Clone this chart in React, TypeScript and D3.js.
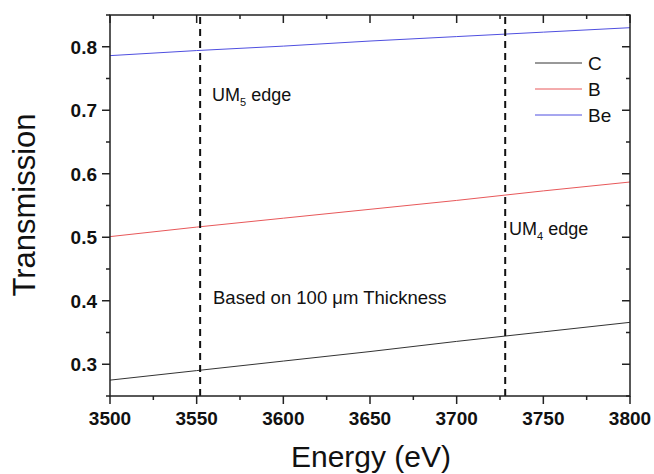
import React from "react";
import * as d3 from "d3";

// energies (eV) and transmission of each filter
const energy = [3500, 3550, 3600, 3650, 3700, 3750, 3800];
const carbon = [0.275, 0.29, 0.305, 0.32, 0.336, 0.351, 0.366];
const boron = [0.501, 0.516, 0.53, 0.544, 0.558, 0.573, 0.587];
const beryllium = [0.786, 0.794, 0.801, 0.809, 0.816, 0.823, 0.83];

const seriesNames = ["C", "B", "Be"];
const seriesColors = ["#333333", "#e8585a", "#4f4fe0"];
const seriesValues = [carbon, boron, beryllium];

const xTicks = [3500, 3550, 3600, 3650, 3700, 3750, 3800];
const yTicks = [0.3, 0.4, 0.5, 0.6, 0.7, 0.8];

// uranium M edges
const edges = [3552, 3728];

export default function App() {
    const w = 654;
    const h = 474;
    const m = { left: 110, right: 24, top: 15, bottom: 78 };
    const font = "'Liberation Sans', Arial, Helvetica, sans-serif";

    const x = d3.scaleLinear().domain([3500, 3800]).range([m.left, w - m.right]);
    const y = d3.scaleLinear().domain([0.25, 0.85]).range([h - m.bottom, m.top]);

    const line = d3.line<number>()
        .x((d, i) => x(energy[i]))
        .y(d => y(d));

    const xMinor = d3.range(3500, 3801, 25);
    const yMinor = d3.range(0.25, 0.851, 0.05);

    const [x0, x1] = x.range();
    const [y0, y1] = y.range();

    return (
        <svg width={w} height={h} style={{ position: "absolute", left: 0, top: 0, background: "#fff" }} fontFamily={font}>
            {/* data lines */}
            {seriesValues.map((vals, k) => (
                <path key={k} d={line(vals) || ""} fill="none" stroke={seriesColors[k]} strokeWidth={1} />
            ))}

            {/* edge markers */}
            {edges.map(e => (
                <line key={e} x1={x(e)} x2={x(e)} y1={y0} y2={y1} stroke="#111" strokeWidth={2} strokeDasharray="7,5" />
            ))}

            {/* frame */}
            <rect x={x0} y={y1} width={x1 - x0} height={y0 - y1} fill="none" stroke="#222" strokeWidth={1.5} />

            {/* x ticks: bottom outward, top inward */}
            {xMinor.map(t => {
                const major = t % 50 === 0;
                const len = major ? 8 : 4;
                return (
                    <g key={t}>
                        <line x1={x(t)} x2={x(t)} y1={y0} y2={y0 + len} stroke="#222" strokeWidth={1.5} />
                        <line x1={x(t)} x2={x(t)} y1={y1} y2={y1 + len} stroke="#222" strokeWidth={1.5} />
                    </g>
                );
            })}
            {xTicks.map(t => (
                <text key={t} x={x(t)} y={y0 + 29} textAnchor="middle" fontSize={19} fontWeight="bold" fill="#111">{t}</text>
            ))}

            {/* y ticks: left outward, right inward */}
            {yMinor.map((t, i) => {
                const major = i % 2 === 1;
                const len = major ? 8 : 4;
                return (
                    <g key={i}>
                        <line x1={x0 - len} x2={x0} y1={y(t)} y2={y(t)} stroke="#222" strokeWidth={1.5} />
                        <line x1={x1 - len} x2={x1} y1={y(t)} y2={y(t)} stroke="#222" strokeWidth={1.5} />
                    </g>
                );
            })}
            {yTicks.map(t => (
                <text key={t} x={x0 - 13} y={y(t) + 7} textAnchor="end" fontSize={19} fontWeight="bold" fill="#111">{t.toFixed(1)}</text>
            ))}

            {/* axis titles */}
            <text x={371} y={467} textAnchor="middle" fontSize={30} fill="#111">Energy (eV)</text>
            <text transform={`translate(35, 205) rotate(-90)`} textAnchor="middle" fontSize={31} fill="#111">Transmission</text>

            {/* annotations */}
            <text x={212} y={101} fontSize={18} fill="#111">UM<tspan fontSize={11} dy={5}>5</tspan><tspan dy={-5}> edge</tspan></text>
            <text x={509} y={235} fontSize={18} fill="#111">UM<tspan fontSize={11} dy={5}>4</tspan><tspan dy={-5}> edge</tspan></text>
            <text x={213} y={304} fontSize={18.5} fill="#111">Based on 100 μm Thickness</text>

            {/* legend */}
            {seriesNames.map((n, k) => (
                <g key={n} transform={`translate(535, ${63 + k * 26})`}>
                    <line x1={0} x2={47} y1={0} y2={0} stroke={seriesColors[k]} strokeWidth={1} />
                    <text x={53} y={7} fontSize={19} fill="#111">{n}</text>
                </g>
            ))}
        </svg>
    );
}
